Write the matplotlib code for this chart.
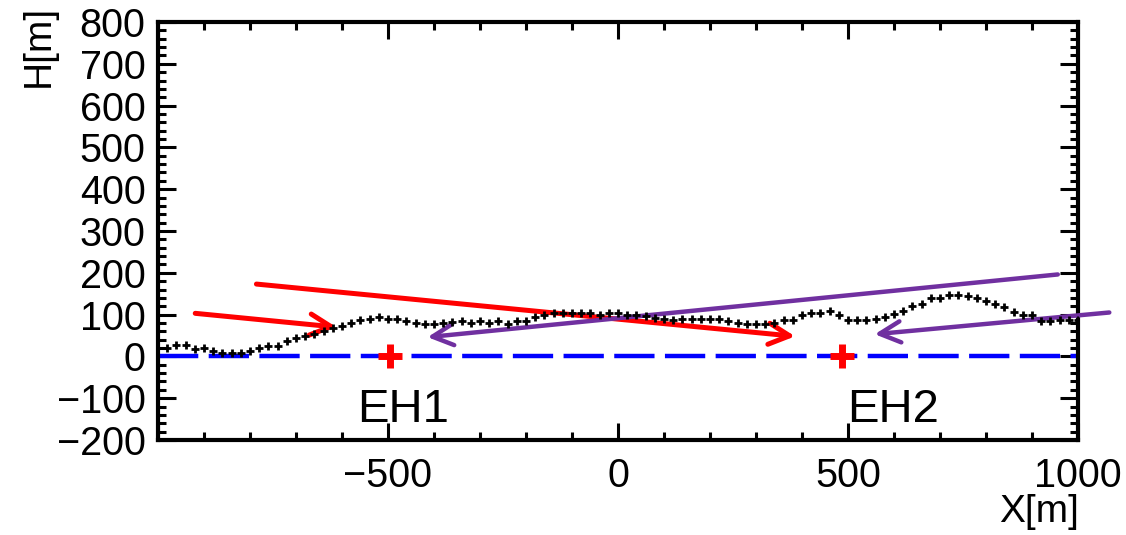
import matplotlib
matplotlib.use('Agg')
import matplotlib.pyplot as plt
import numpy as np
from matplotlib.ticker import MultipleLocator

plt.rcParams['font.family'] = ['Liberation Sans', 'DejaVu Sans']
plt.rcParams['lines.scale_dashes'] = False

# perfil del terreno (cada 20 m)
x_perfil = np.arange(-1000, 1001, 20)
h_perfil = [20, 21, 27, 27, 17, 21, 13, 9, 9, 9,
            14, 21, 26, 26, 38, 45, 49, 54, 61, 69,
            73, 81, 86, 90, 95, 90, 90, 84, 81, 77,
            77, 81, 82, 84, 81, 84, 81, 84, 77, 84,
            84, 94, 100, 104, 104, 104, 104, 104, 100, 104,
            104, 100, 100, 96, 92, 90, 88, 90, 90, 90,
            90, 90, 84, 81, 77, 77, 77, 81, 86, 86,
            100, 103, 104, 108, 100, 88, 88, 86, 90, 95,
            102, 108, 120, 126, 140, 140, 146, 146, 144, 139,
            132, 126, 118, 106, 100, 100, 84, 84, 86, 86,
            88]

# puntos EH
eh_nombres = ['EH1', 'EH2']
eh_x = [-495, 487]
eh_h = [0, 0]
eh_texto_x = [-567, 497]
eh_texto_h = [-158, -158]

# flechas: (inicio x, inicio h, fin x, fin h)
flechas_rojas = [(-919, 103, -612, 70), (-786, 173, 385, 48)]
flechas_lila = [(956, 196, -414, 46), (1068, 105, 558, 53)]

fig = plt.figure(figsize=(11.26, 5.35), dpi=100)
ax = fig.add_axes([0.1403, 0.1776, 0.8171, 0.7813])

ax.plot([-1000, 1000], [0, 0], color='#0000ff', lw=3.2, dashes=(29, 7.5), zorder=2)

for x0, y0, x1, y1 in flechas_rojas:
    ax.annotate('', xy=(x1, y1), xytext=(x0, y0), annotation_clip=False,
                arrowprops=dict(arrowstyle='->,head_length=0.75,head_width=0.38',
                                color='#ff0000', lw=3.6, mutation_scale=20,
                                shrinkA=0, shrinkB=0), zorder=3)
for x0, y0, x1, y1 in flechas_lila:
    ax.annotate('', xy=(x1, y1), xytext=(x0, y0), annotation_clip=False,
                arrowprops=dict(arrowstyle='->,head_length=0.75,head_width=0.38',
                                color='#7030a0', lw=3.2, mutation_scale=20,
                                shrinkA=0, shrinkB=0), zorder=4)

ax.plot(x_perfil, h_perfil, ls='none', marker='+', color='black', ms=5.5, mew=2, zorder=5)
ax.plot(eh_x, eh_h, ls='none', marker='+', color='#ff0000', ms=17, mew=5, zorder=6)

for nom, tx, th in zip(eh_nombres, eh_texto_x, eh_texto_h):
    ax.text(tx, th, nom, fontsize=34, ha='left', va='baseline')

ax.set_xlim(-1000, 1000)
ax.set_ylim(-200, 800)
ax.set_xticks([-1000, -500, 0, 500, 1000])
ax.set_xticklabels(['', '\u2212500', '0', '500', '1000'])
ax.set_yticks(np.arange(-200, 801, 100))
ax.set_yticklabels([str(v).replace('-', '\u2212') for v in range(-200, 801, 100)])
ax.xaxis.set_minor_locator(MultipleLocator(100))
ax.yaxis.set_minor_locator(MultipleLocator(20))
ax.tick_params(which='both', direction='in', top=True, right=True, width=2.2, labelsize=28.5)
ax.tick_params(axis='x', which='major', length=12, pad=12)
ax.tick_params(axis='x', which='minor', length=6)
ax.tick_params(axis='y', which='major', length=13, pad=9)
ax.tick_params(axis='y', which='minor', length=5.5)
for s in ax.spines.values():
    s.set_linewidth(3)

fig.text(0.034, 0.99, 'H[m]', rotation=90, fontsize=28, ha='center', va='top')
fig.text(0.958, 0.01, 'X[m]', fontsize=28, ha='right', va='bottom')

fig.savefig('out.png', dpi=100)
